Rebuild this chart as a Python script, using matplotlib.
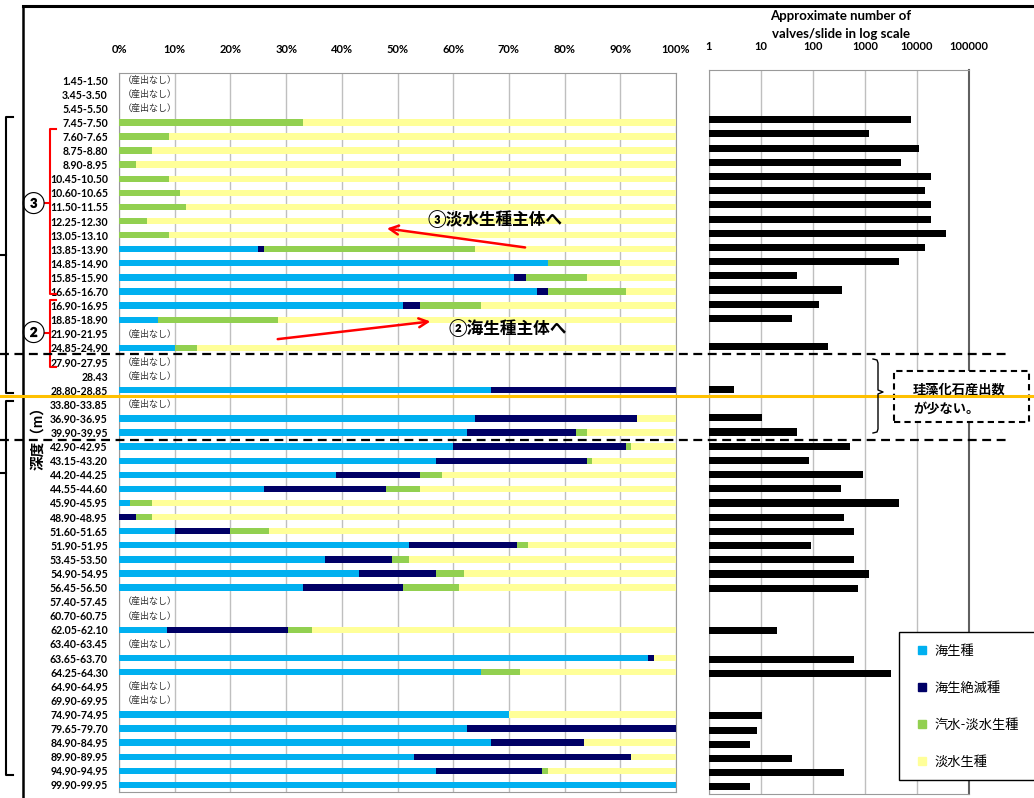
import numpy as np
import matplotlib
matplotlib.use("Agg")
import matplotlib.pyplot as plt
from matplotlib.lines import Line2D
from matplotlib.patches import Rectangle
from matplotlib.ticker import NullLocator

plt.rcParams['font.family'] = ['Lato', 'Noto Sans CJK JP', 'DejaVu Sans']

nan = np.nan

depths = ["1.45-1.50", "3.45-3.50", "5.45-5.50", "7.45-7.50", "7.60-7.65", "8.75-8.80",
          "8.90-8.95", "10.45-10.50", "10.60-10.65", "11.50-11.55", "12.25-12.30",
          "13.05-13.10", "13.85-13.90", "14.85-14.90", "15.85-15.90", "16.65-16.70",
          "16.90-16.95", "18.85-18.90", "21.90-21.95", "24.85-24.90", "27.90-27.95",
          "28.43", "28.80-28.85", "33.80-33.85", "36.90-36.95", "39.90-39.95",
          "42.90-42.95", "43.15-43.20", "44.20-44.25", "44.55-44.60", "45.90-45.95",
          "48.90-48.95", "51.60-51.65", "51.90-51.95", "53.45-53.50", "54.90-54.95",
          "56.45-56.50", "57.40-57.45", "60.70-60.75", "62.05-62.10", "63.40-63.45",
          "63.65-63.70", "64.25-64.30", "64.90-64.95", "69.90-69.95", "74.90-74.95",
          "79.65-79.70", "84.90-84.95", "89.90-89.95", "94.90-94.95", "99.90-99.95"]

# composition (%) per sample; nan = no diatoms found
marine = [nan, nan, nan, 0, 0, 0, 0, 0, 0, 0, 0, 0, 25, 77, 71, 75, 51, 7, nan, 10, nan,
          nan, 66.7, nan, 64, 62.5, 60, 57, 39, 26, 2, 0, 10, 52, 37, 43, 33, nan, nan,
          8.6, nan, 95, 65, nan, nan, 70, 62.5, 66.7, 53, 57, 100]
extinct = [nan, nan, nan, 0, 0, 0, 0, 0, 0, 0, 0, 0, 1, 0, 2, 2, 3, 0, nan, 0, nan,
           nan, 33.3, nan, 29, 19.5, 31, 27, 15, 22, 0, 3, 10, 19.5, 12, 14, 18, nan, nan,
           21.7, nan, 1, 0, nan, nan, 0, 37.5, 16.7, 39, 19, 0]
brackish = [nan, nan, nan, 33, 9, 6, 3, 9, 11, 12, 5, 9, 38, 13, 11, 14, 11, 21.5, nan, 4,
            nan, nan, 0, nan, 0, 2, 1, 1, 4, 6, 4, 3, 7, 2, 3, 5, 10, nan, nan,
            4.3, nan, 0, 7, nan, nan, 0, 0, 0, 0, 1, 0]
fresh = [nan, nan, nan, 67, 91, 94, 97, 91, 89, 88, 95, 91, 36, 10, 16, 9, 35, 71.5, nan, 86,
         nan, nan, 0, nan, 7, 16, 8, 15, 42, 46, 94, 94, 73, 26.5, 48, 38, 39, nan, nan,
         65.4, nan, 4, 28, nan, nan, 30, 0, 16.6, 8, 23, 0]

# approximate valves per slide
counts = [nan, nan, nan, 7500, 1200, 11000, 4900, 18600, 14200, 18600, 18600, 36000,
          14200, 4500, 49, 360, 130, 40, nan, 195, nan, nan, 3, nan, 10.5, 49, 515, 84,
          920, 345, 4500, 395, 615, 91, 615, 1190, 735, nan, nan, 20, nan, 615, 3160,
          nan, nan, 10.5, 8.4, 6.2, 39, 395, 6.2]

group_labels = ["海生種", "海生絶滅種", "汽水-淡水生種", "淡水生種"]
group_colors = ["#00B0F0", "#000066", "#92D050", "#FFFF99"]

W, H = 1034, 798
fig = plt.figure(figsize=(W / 100, H / 100), dpi=100)


def fx(x):
    return x / W


def fy(y):
    return 1 - y / H


def line(xs, ys, **kw):
    fig.add_artist(Line2D([fx(x) for x in xs], [fy(y) for y in ys],
                          transform=fig.transFigure, **kw))


rows = np.arange(len(depths))
n = len(depths)

# --- composition panel ---
ax = fig.add_axes([fx(119), fy(792), fx(676) - fx(119), fy(73) - fy(792)])
left = np.zeros(n)
for vals, color in zip([marine, extinct, brackish, fresh], group_colors):
    v = np.array(vals, float)
    ax.barh(rows, v, left=left, height=0.45, color=color, zorder=3)
    left = left + np.nan_to_num(v)

for i in rows:
    if np.isnan(marine[i]):
        ax.text(0.7, i, "（産出なし）", va="center", ha="left", fontsize=6.5,
                color="#333333", zorder=4)

ax.set_xlim(0, 100)
ax.set_ylim(n - 0.5, -0.5)
ax.xaxis.tick_top()
ax.set_xticks(range(0, 101, 10))
ax.set_xticklabels([f"{v}%" for v in range(0, 101, 10)], fontweight="bold", fontsize=8)
ax.set_yticks(rows)
ax.set_yticklabels(depths, fontweight="bold", fontsize=7.6)
ax.tick_params(axis="both", length=0)
ax.tick_params(axis="x", pad=13)
ax.tick_params(axis="y", pad=8)
ax.xaxis.grid(True, color="#BFBFBF", lw=1)
ax.set_axisbelow(True)
for s in ax.spines.values():
    s.set_color("#9A9A9A")

# arrows and notes on the composition panel
ax.annotate("", xy=(47.6, 10.5), xytext=(73.4, 11.9), annotation_clip=False,
            arrowprops=dict(arrowstyle="->", color="red", lw=1.8, mutation_scale=16))
ax.text(67.5, 9.85, "③淡水生種主体へ", ha="center", va="center", fontsize=12,
        fontweight="bold", zorder=5)
ax.annotate("", xy=(56.4, 17.1), xytext=(28.0, 18.4), annotation_clip=False,
            arrowprops=dict(arrowstyle="->", color="red", lw=1.8, mutation_scale=16))
ax.text(69.8, 17.6, "②海生種主体へ", ha="center", va="center", fontsize=12,
        fontweight="bold", zorder=5)

# --- abundance panel (log scale) ---
ax2 = fig.add_axes([fx(709), fy(794), fx(969) - fx(709), fy(70) - fy(794)])
ax2.barh(rows, np.array(counts, float), height=0.5, color="black", log=True, zorder=3)
ax2.set_xscale("log")
ax2.set_xlim(1, 1e5)
ax2.set_ylim(n - 0.5, -0.5)
ax2.xaxis.tick_top()
ticks = [1, 10, 100, 1000, 10000, 100000]
ax2.set_xticks(ticks)
ax2.set_xticklabels([str(t) for t in ticks], fontweight="bold", fontsize=8)
ax2.xaxis.set_minor_locator(NullLocator())
ax2.set_yticks([])
ax2.tick_params(axis="x", length=0, pad=13)
ax2.xaxis.grid(True, color="#BFBFBF", lw=1)
ax2.set_axisbelow(True)
for s in ax2.spines.values():
    s.set_color("#9A9A9A")
ax2.spines["right"].set_color("#606060")
ax2.spines["right"].set_linewidth(1.5)

fig.text(fx(841), fy(16), "Approximate number of", ha="center", va="center",
         fontsize=9.5, fontweight="bold")
fig.text(fx(841), fy(34), "valves/slide in log scale", ha="center", va="center",
         fontsize=9.5, fontweight="bold")

handles = [Line2D([], [], ls="", marker="s", markersize=6, color=c) for c in group_colors]
leg = fig.legend(handles, group_labels, loc="upper left", mode="expand",
                 bbox_to_anchor=(fx(899), fy(782), fx(1045) - fx(899), fy(632) - fy(782)),
                 borderaxespad=0, fontsize=9.5, labelspacing=1.84, borderpad=0.92,
                 handlelength=1.6, handletextpad=0.2, fancybox=False, framealpha=1)
leg.get_frame().set_edgecolor("black")
leg.get_frame().set_linewidth(1)

# --- frame, brackets and zone markers ---
line([23, 1034], [6, 6], color="black", lw=2.2)
line([23, 23], [6, 798], color="black", lw=1.8)

line([13, 6, 6, 13], [117, 117, 393, 393], color="black", lw=1.5)
line([0, 6], [255, 255], color="black", lw=1.5)
line([13, 6, 6, 13], [401, 401, 775, 775], color="black", lw=1.5)
line([0, 6], [473, 473], color="black", lw=1.5)

line([56, 50, 50, 56], [129, 129, 294, 294], color="red", lw=1.5)
line([45, 50], [203, 203], color="red", lw=1.5)
line([56, 50, 50, 56], [300, 300, 367, 367], color="red", lw=1.5)
line([45, 50], [333, 333], color="red", lw=1.5)
fig.text(fx(33), fy(203), "③", ha="center", va="center", fontsize=15, fontweight="bold")
fig.text(fx(33), fy(332), "②", ha="center", va="center", fontsize=15, fontweight="bold")

line([0, 1008], [354, 354], color="black", lw=1.6, ls=(0, (4, 2.5)))
line([0, 1008], [440, 440], color="black", lw=1.6, ls=(0, (4, 2.5)))
line([0, 1034], [396, 396], color="#FFC000", lw=2.2)

fig.text(fx(38), fy(435), "深度（m）", rotation=90, ha="center", va="center",
         fontsize=10.5, fontweight="bold")

# note on the low-count interval
line([873, 877, 878, 878, 883, 878, 878, 877, 873],
     [359, 360, 363, 390, 392, 394, 429, 432, 433], color="black", lw=1)
fig.add_artist(Rectangle((fx(894), fy(422)), fx(1029) - fx(894), fy(371) - fy(422),
                         transform=fig.transFigure, facecolor="white", edgecolor="black",
                         lw=1.5, ls=(0, (3, 2))))
fig.text(fx(913), fy(390), "珪藻化石産出数", ha="left", va="center", fontsize=9.5,
         fontweight="bold")
fig.text(fx(913), fy(408), "が少ない。", ha="left", va="center", fontsize=9.5,
         fontweight="bold")

fig.savefig("out.png", dpi=100)
